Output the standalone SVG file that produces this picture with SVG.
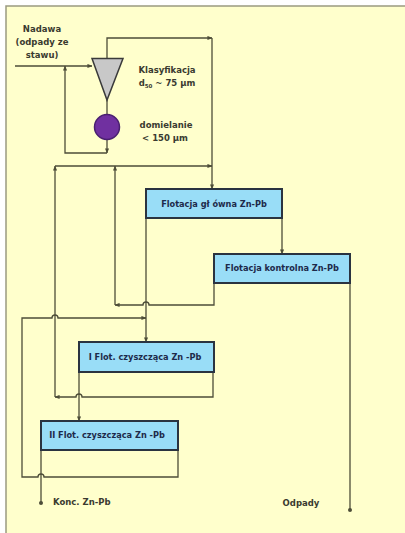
<svg xmlns="http://www.w3.org/2000/svg" width="405" height="533" viewBox="0 0 405 533">
<style>
.bg{fill:#FFFFCC;stroke:#9a9a80;stroke-width:1.5}
.ln{fill:none;stroke:#4d4d38;stroke-width:1.3}
.box{fill:#99DDF7;stroke:#2a3340;stroke-width:2}
.bt{font-family:"DejaVu Sans",sans-serif;font-weight:bold;font-size:8.2px;fill:#1d2a4a;text-anchor:middle}
.lb{font-family:"DejaVu Sans",sans-serif;font-weight:bold;font-size:8.5px;fill:#3a3a30}
.mid{text-anchor:middle}
</style>
<defs>
<marker id="ar" viewBox="0 0 6 6" refX="5.5" refY="3" markerWidth="5" markerHeight="5" orient="auto" markerUnits="userSpaceOnUse">
<path d="M0,0.5 L6,3 L0,5.5 Z" fill="#4d4d38"/>
</marker>
<marker id="dt" viewBox="0 0 6 6" refX="3" refY="3" markerWidth="4" markerHeight="4" markerUnits="userSpaceOnUse">
<circle cx="3" cy="3" r="3" fill="#4d4d38"/>
</marker>
</defs>
<rect class="bg" x="6" y="6" width="410" height="540"/>
<g id="connectors">
<path class="ln" d="M15,66 H92" marker-end="url(#ar)"/>
<path class="ln" d="M107,58 V38 H212" marker-end="url(#ar)"/>
<path class="ln" d="M212,38 V189" marker-end="url(#ar)"/>
<path class="ln" d="M107,100 V114.5"/>
<path class="ln" d="M107,139.5 V153" marker-end="url(#ar)"/>
<path class="ln" d="M107,153 H65 V66" marker-end="url(#ar)"/>
<path class="ln" d="M282,218 V254" marker-end="url(#ar)"/>
<path class="ln" d="M350,283 V510" marker-end="url(#dt)"/>
<path class="ln" d="M214,283 V305 H149 A3,3 0 0 0 143,305 H115" marker-end="url(#ar)"/>
<path class="ln" d="M115,305 V166" marker-end="url(#ar)"/>
<path class="ln" d="M55,166 H212" marker-end="url(#ar)"/>
<path class="ln" d="M146,218 V342" marker-end="url(#ar)"/>
<path class="ln" d="M178,450 V477 H44 A3,3 0 0 0 38,477 H22 V318 H52 A3,3 0 0 1 58,318 H146" marker-end="url(#ar)"/>
<path class="ln" d="M213,372 V397 H82 A3,3 0 0 0 76,397 H55" marker-end="url(#ar)"/>
<path class="ln" d="M55,397 V166" marker-end="url(#ar)"/>
<path class="ln" d="M79,372 V421" marker-end="url(#ar)"/>
<path class="ln" d="M41,450 V503" marker-end="url(#dt)"/>
</g>
<g id="feed">
<text class="lb mid" x="42" y="32">Nadawa</text>
<text class="lb mid" x="42" y="45">(odpady ze</text>
<text class="lb mid" x="42" y="58">stawu)</text>
</g>
<g id="classifier">
<path d="M92,58.5 L123,58.5 L107,100 Z" fill="#C8C8C8" stroke="#3a3a3a" stroke-width="1.5"/>
<text class="lb mid" x="167" y="73">Klasyfikacja</text>
<text class="lb mid" x="167" y="86">d<tspan font-size="5.5px" dy="2">50</tspan><tspan dy="-2"> ~ 75 µm</tspan></text>
</g>
<g id="mill">
<circle cx="107" cy="127" r="12.5" fill="#7030A0" stroke="#4a2070" stroke-width="1.5"/>
<text class="lb mid" x="166" y="128">domielanie</text>
<text class="lb mid" x="165" y="141">&lt; 150 µm</text>
</g>
<g id="flot-glowna">
<rect class="box" x="146" y="189" width="136" height="29"/>
<text class="bt" x="214" y="207">Flotacja gł ówna Zn-Pb</text>
</g>
<g id="flot-kontrolna">
<rect class="box" x="214" y="254" width="136" height="29"/>
<text class="bt" x="282" y="271">Flotacja kontrolna  Zn-Pb</text>
</g>
<g id="flot-1">
<rect class="box" x="79" y="342" width="135" height="30"/>
<text class="bt" x="145" y="360">I Flot.  czyszcząca Zn -Pb</text>
</g>
<g id="flot-2">
<rect class="box" x="41" y="421" width="137" height="29"/>
<text class="bt" x="107" y="438">II Flot.  czyszcząca Zn -Pb</text>
</g>
<g id="products">
<text class="lb" x="53" y="505">Konc. Zn-Pb</text>
<text class="lb mid" x="301" y="506">Odpady</text>
</g>
</svg>
